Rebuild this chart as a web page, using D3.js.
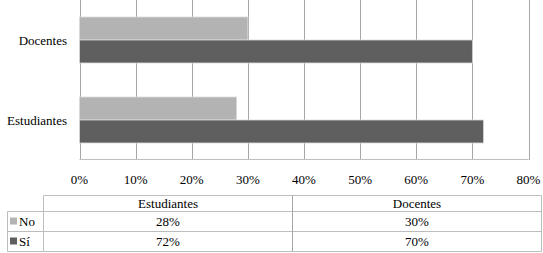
<!DOCTYPE html>
<html>
<head>
<meta charset="utf-8">
<script src="https://cdn.jsdelivr.net/npm/d3@7"></script>
<style>
  html, body { margin: 0; padding: 0; background: #fff; }
  svg { display: block; }
</style>
</head>
<body>
<svg id="chart" font-family="DejaVu Serif, Liberation Serif, serif"></svg>
<script>
// data
const categories = ['Estudiantes', 'Docentes'];
const seriesNames = ['No', 'Sí'];
const noValues = [28, 30];
const siValues = [72, 70];
const xTicks = [0, 10, 20, 30, 40, 50, 60, 70, 80];

const width = 543;
const height = 253;
const colors = { 'No': '#b3b3b3', 'Sí': '#5f5f5f' };
const font = "'Liberation Serif', 'DejaVu Serif', serif";

const svg = d3.select('#chart')
  .attr('width', width)
  .attr('height', height);

const seriesData = [
  { name: 'No', values: noValues },
  { name: 'Sí', values: siValues }
];

// scales
const xScale = d3.scaleLinear()
  .domain([0, 80])
  .range([79.5, 528.5]);

// Excel draws categories bottom-up
const yScale = d3.scaleBand()
  .domain(categories.slice().reverse())
  .range([0, 160])
  .paddingInner(0.425)
  .paddingOuter(0.2125);

const ySub = d3.scaleBand()
  .domain(seriesNames)
  .range([0, yScale.bandwidth()]);

// gridlines
svg.append('g')
  .attr('class', 'grid')
  .selectAll('line')
  .data(xTicks)
  .join('line')
  .attr('x1', d => Math.round(xScale(d)) + 0.5)
  .attr('x2', d => Math.round(xScale(d)) + 0.5)
  .attr('y1', 0)
  .attr('y2', 160)
  .attr('stroke', '#a6a6a6')
  .attr('stroke-width', 1);

// bottom axis line
svg.append('line')
  .attr('x1', xScale(0))
  .attr('x2', xScale(80))
  .attr('y1', 159.5)
  .attr('y2', 159.5)
  .attr('stroke', '#bfbfbf');

// bars
const groups = svg.append('g')
  .selectAll('g')
  .data(categories)
  .join('g')
  .attr('transform', d => `translate(0, ${yScale(d)})`);

groups.selectAll('rect')
  .data((c, i) => seriesData.map(s => ({ name: s.name, value: s.values[i] })))
  .join('rect')
  .attr('x', xScale(0))
  .attr('y', d => ySub(d.name))
  .attr('width', d => xScale(d.value) - xScale(0))
  .attr('height', ySub.bandwidth())
  .attr('fill', d => colors[d.name])
  .attr('stroke', '#d9d9d9')
  .attr('stroke-width', 0.8);

// category labels
svg.append('g')
  .selectAll('text')
  .data(categories)
  .join('text')
  .attr('x', 67)
  .attr('y', d => yScale(d) + yScale.bandwidth() / 2)
  .attr('dy', '0.35em')
  .attr('text-anchor', 'end')
  .attr('font-family', font)
  .attr('font-size', 13)
  .attr('fill', '#000')
  .text(d => d);

// tick labels
svg.append('g')
  .selectAll('text')
  .data(xTicks)
  .join('text')
  .attr('x', d => xScale(d))
  .attr('y', 179)
  .attr('dy', '0.35em')
  .attr('text-anchor', 'middle')
  .attr('font-family', font)
  .attr('font-size', 13)
  .text(d => d + '%');

// data table
const colScale = d3.scaleBand()
  .domain(categories)
  .range([43.5, 541.5]);

const rowY = [195.5, 211.5, 231.5, 251.5];
const tableStroke = '#bdbdbd';
const table = svg.append('g').attr('class', 'data-table');

// horizontal lines
table.selectAll('.hline')
  .data(rowY)
  .join('line')
  .attr('class', 'hline')
  .attr('x1', (d, i) => i === 0 ? 43.5 : 7.5)
  .attr('x2', 541.5)
  .attr('y1', d => d)
  .attr('y2', d => d)
  .attr('stroke', tableStroke);

// vertical lines
const vLines = [
  { x: 7.5, y1: rowY[1] },
  { x: 43.5, y1: rowY[0] },
  { x: colScale('Docentes'), y1: rowY[0] },
  { x: 541.5, y1: rowY[0] }
];
table.selectAll('.vline')
  .data(vLines)
  .join('line')
  .attr('class', 'vline')
  .attr('x1', d => d.x)
  .attr('x2', d => d.x)
  .attr('y1', d => d.y1)
  .attr('y2', rowY[3])
  .attr('stroke', d => d.x === colScale('Docentes') ? '#a6a6a6' : tableStroke);

// header
table.selectAll('.head')
  .data(categories)
  .join('text')
  .attr('class', 'head')
  .attr('x', d => colScale(d) + colScale.bandwidth() / 2)
  .attr('y', (rowY[0] + rowY[1]) / 2)
  .attr('dy', '0.35em')
  .attr('text-anchor', 'middle')
  .attr('font-family', font)
  .attr('font-size', 13)
  .text(d => d);

// rows
const rows = table.selectAll('.row')
  .data(seriesData)
  .join('g')
  .attr('class', 'row')
  .attr('transform', (d, i) => `translate(0, ${(rowY[i + 1] + rowY[i + 2]) / 2})`);

rows.append('rect')
  .attr('x', 10)
  .attr('y', -4)
  .attr('width', 7)
  .attr('height', 7)
  .attr('fill', d => colors[d.name]);

rows.append('text')
  .attr('x', 19)
  .attr('dy', '0.35em')
  .attr('font-family', font)
  .attr('font-size', 13)
  .text(d => d.name);

rows.selectAll('.val')
  .data(d => d.values.map((v, i) => ({ cat: categories[i], v })))
  .join('text')
  .attr('class', 'val')
  .attr('x', d => colScale(d.cat) + colScale.bandwidth() / 2)
  .attr('dy', '0.35em')
  .attr('text-anchor', 'middle')
  .attr('font-family', font)
  .attr('font-size', 13)
  .text(d => d.v + '%');
</script>
</body>
</html>
